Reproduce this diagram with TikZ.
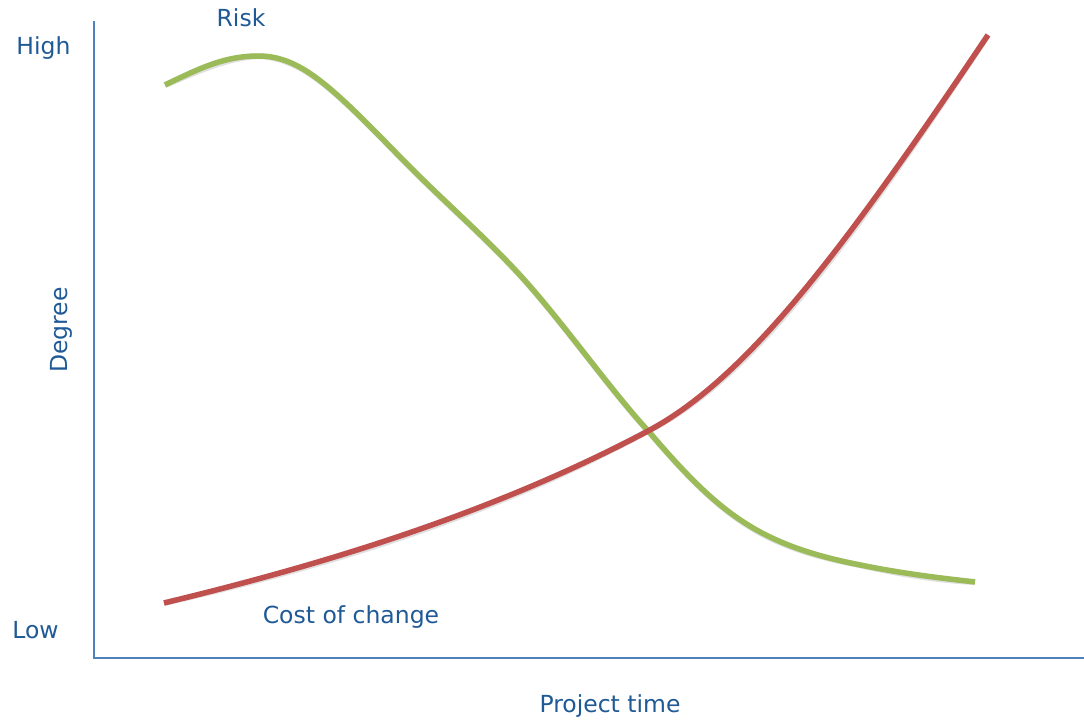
\documentclass[tikz,border=0pt]{standalone}
\usepackage{fontspec}
\setmainfont{DejaVu Sans}
\begin{document}
\begin{tikzpicture}[x=1pt,y=-1pt,
  lbl/.style={text=txtblue,font=\fontsize{23.5}{26}\selectfont,inner sep=0pt,anchor=base},
  axisline/.style={draw=axblue,line width=2pt},
  curve/.style={line width=5.5pt,line cap=butt,line join=round},
  shadowline/.style={line width=6pt,draw=black!40,opacity=0.3}]
\definecolor{txtblue}{HTML}{1F5A96}
\definecolor{axblue}{HTML}{4F81BD}
\definecolor{riskgreen}{HTML}{9BBB59}
\definecolor{costred}{HTML}{C0504D}
\useasboundingbox[fill=white] (0,0) rectangle (1084,720);
% axes
\coordinate (ytop) at (93.5,21);
\coordinate (origin) at (93.5,658);
\coordinate (xend) at (1084,658);
\draw[axisline] (ytop) -- (origin) -- (xend);
% labels
\node[lbl] (high) at (43.5,54) {High};
\node[lbl] (low) at (35.5,638) {Low};
\node[lbl] (risk) at (241,26) {Risk};
\node[lbl] (cost) at (351,623) {Cost of change};
\node[lbl] (ptime) at (610,712) {Project time};
\node[text=txtblue,font=\fontsize{23.5}{26}\selectfont,inner sep=0pt,rotate=90] (degree) at (61,330) {Degree};
% curve end points
\coordinate (rs) at (165,85);
\coordinate (rpk) at (258,56);
\coordinate (r2) at (400,157);
\coordinate (r3) at (517,272);
\coordinate (rx) at (650,433);
\coordinate (r5) at (860,565);
\coordinate (re) at (975,582);
\coordinate (cs) at (164,603);
\coordinate (cx) at (648,431);
\coordinate (ce) at (988,35);
\def\riskpath{(rs) .. controls (200,68) and (225,56) .. (rpk)
  .. controls (300,56) and (330,85) .. (r2)
  .. controls (440,198) and (480,232) .. (r3)
  .. controls (560,318) and (610,390) .. (rx)
  .. controls (720,515) and (760,545) .. (r5)
  .. controls (910,575) and (950,579) .. (re)}
\def\costpath{(cs) .. controls (300,570) and (480,520) .. (cx)
  .. controls (750,377) and (850,240) .. (ce)}
% shadows
\begin{scope}[shift={(1.5,2)}]
\draw[shadowline] \riskpath;
\draw[shadowline] \costpath;
\end{scope}
% curves
\draw[curve,draw=riskgreen] \riskpath;
\draw[curve,draw=costred] \costpath;
\end{tikzpicture}
\end{document}
